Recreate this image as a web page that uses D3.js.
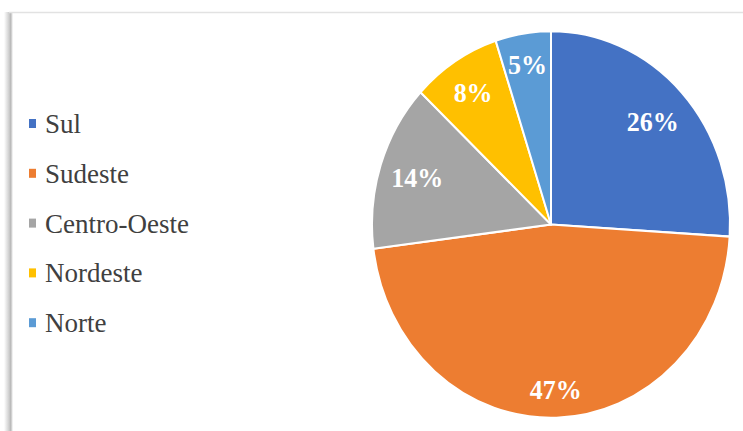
<!DOCTYPE html>
<html>
<head>
<meta charset="utf-8">
<script src="https://cdn.jsdelivr.net/npm/d3@7/dist/d3.min.js"></script>
<style>
  html, body { margin: 0; padding: 0; background: #fff; }
  svg { display: block; }
</style>
</head>
<body>
<svg id="chart" width="743" height="431"></svg>
<script>
// Regional distribution (percent)
const regions = ["Sul", "Sudeste", "Centro-Oeste", "Nordeste", "Norte"];
const shares = [26, 47, 14, 8, 5];
const colors = ["#4472C4", "#ED7D31", "#A5A5A5", "#FFC000", "#5B9BD5"];

const serifStack = "Liberation Serif, DejaVu Serif, serif";

const svg = d3.select("#chart");
const W = 743, H = 431;

// panel frame: faint top rule and a soft shadow down the left side
const defs = svg.append("defs");
const shadow = defs.append("linearGradient").attr("id", "leftShadow")
  .attr("x1", "0%").attr("x2", "100%").attr("y1", "0%").attr("y2", "0%");
shadow.append("stop").attr("offset", "0%").attr("stop-color", "#fff");
shadow.append("stop").attr("offset", "55%").attr("stop-color", "#cfcfcf");
shadow.append("stop").attr("offset", "75%").attr("stop-color", "#b8b8b8");
shadow.append("stop").attr("offset", "100%").attr("stop-color", "#fff");
svg.append("rect").attr("x", 4).attr("y", 12).attr("width", 9).attr("height", H - 12)
  .attr("fill", "url(#leftShadow)");
svg.append("line").attr("x1", 9).attr("x2", W).attr("y1", 12.5).attr("y2", 12.5)
  .attr("stroke", "#e2e2e2").attr("stroke-width", 1.5);

// pie, drawn slightly taller than wide
const cx = 551, cy = 224.5, r = 179, stretchY = 1.08;
const pie = d3.pie().sort(null).value(d => d.v)(regions.map((k, i) => ({ k, v: shares[i], c: colors[i] })));
const arc = d3.arc().innerRadius(0).outerRadius(r);

const g = svg.append("g").attr("transform", `translate(${cx},${cy}) scale(1,${stretchY})`);
g.selectAll("path.slice").data(pie).join("path")
  .attr("class", "slice")
  .attr("d", arc)
  .attr("fill", d => d.data.c)
  .attr("stroke", "#fff")
  .attr("stroke-width", 2)
  .attr("stroke-linejoin", "round");

// percentage labels placed just inside the outer edge of each slice
const labels = g.selectAll("text.pct").data(pie).join("text")
  .attr("class", "pct")
  .attr("text-anchor", "middle")
  .attr("dy", "0.35em")
  .style("font-family", serifStack)
  .style("font-weight", "bold")
  .style("font-size", "26px")
  .attr("fill", "#fff")
  .text(d => d.data.v + "%");

labels.each(function (d) {
  const w = this.getComputedTextLength();
  const a = (d.startAngle + d.endAngle) / 2;
  const extent = Math.abs(Math.sin(a)) * w / 2 + Math.abs(Math.cos(a)) * 18;
  const lr = r - 8 - extent;
  d3.select(this).attr("x", Math.sin(a) * lr).attr("y", -Math.cos(a) * lr);
});

// legend
const legend = svg.append("g").attr("transform", "translate(29,133)");
const rows = legend.selectAll("g").data(regions).join("g")
  .attr("transform", (d, i) => `translate(0,${i * 49.8})`);
rows.append("rect")
  .attr("x", 0).attr("y", -14).attr("width", 7).attr("height", 9)
  .attr("fill", (d, i) => colors[i]);
rows.append("text")
  .attr("x", 16).attr("y", 0)
  .style("font-family", serifStack)
  .style("font-size", "27px")
  .attr("fill", "#404040")
  .text(d => d);
</script>
</body>
</html>
